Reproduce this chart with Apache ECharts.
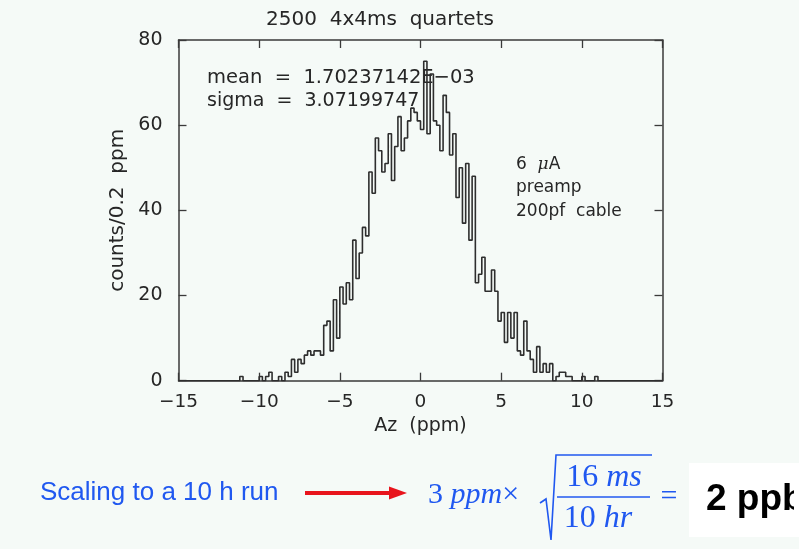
<!DOCTYPE html>
<html>
<head>
<meta charset="utf-8">
<script src="https://cdn.jsdelivr.net/npm/echarts@6/dist/echarts.min.js"></script>
<style>
  html, body { margin: 0; padding: 0; background: #f5faf7; }
  #chart { width: 799px; height: 549px; }
</style>
</head>
<body>
<div id="chart"></div>
<script>
// Histogram of Az, 150 bins of 0.2 ppm from -15 to 15
const binStart = -15;
const binWidth = 0.2;
const counts = [
  0, 0, 0, 0, 0, 0, 0, 0, 0, 0,
  0, 0, 0, 0, 0, 0, 0, 0, 0, 1,
  0, 0, 0, 0, 0, 1, 0, 1, 2, 0,
  0, 1, 0, 2, 1, 5, 2, 5, 4, 6,
  7, 6, 7, 7, 6, 13, 14, 7, 19, 10,
  22, 18, 23, 19, 33, 24, 30, 36, 34, 49,
  44, 57, 54, 49, 51, 58, 47, 55, 62, 54,
  57, 61, 64, 63, 61, 59, 75, 58, 72, 61,
  60, 54, 67, 63, 53, 58, 43, 50, 37, 51,
  33, 48, 23, 25, 29, 21, 21, 26, 21, 14,
  16, 9, 16, 10, 16, 7, 6, 14, 7, 5,
  2, 8, 2, 4, 2, 4, 0, 1, 2, 2,
  1, 1, 0, 0, 0, 1, 0, 0, 0, 1,
  0, 0, 0, 0, 0, 0, 0, 0, 0, 0,
  0, 0, 0, 0, 0, 0, 0, 0, 0, 0
];
const xRange = [-15, 15];
const xStep = 5;
const yRange = [0, 80];
const yStep = 20;

const titleText = '2500  4x4ms  quartets';
const statLines = ['mean  =  1.70237142E\u221203', 'sigma  =  3.07199747'];
const noteLines = ['preamp', '200pf  cable'];

// step outline: each bin starts at its left edge, closes at the right end
const outline = counts.map((c, i) => [+(binStart + i * binWidth).toFixed(1), c]);
outline.push([xRange[1], 0]);

const ink = '#262626';
const frame = '#3a3a3a';
const sans = 'DejaVu Sans';
const blue = '#2058f0';

const minusFmt = v => String(v).replace('-', '\u2212');

const xCommon = {
  type: 'value', min: xRange[0], max: xRange[1], interval: xStep,
  axisLine: { show: true, onZero: false, lineStyle: { color: frame, width: 1.5 } },
  axisTick: { show: true, inside: true, length: 8, lineStyle: { color: frame, width: 1.3 } },
  splitLine: { show: false }
};
const yCommon = {
  type: 'value', min: yRange[0], max: yRange[1], interval: yStep,
  axisLine: { show: true, onZero: false, lineStyle: { color: frame, width: 1.5 } },
  axisTick: { show: true, inside: true, length: 8, lineStyle: { color: frame, width: 1.3 } },
  splitLine: { show: false }
};

const chart = echarts.init(document.getElementById('chart'), null, { renderer: 'canvas' });
chart.setOption({
  backgroundColor: '#f5faf7',
  animation: false,
  grid: { left: 178.5, right: 136.5, top: 40, bottom: 168.3 },
  xAxis: [
    Object.assign({}, xCommon, {
      position: 'bottom',
      axisLabel: { formatter: minusFmt, color: ink, fontFamily: sans, fontSize: 18.5, margin: 12 },
      name: 'Az  (ppm)', nameLocation: 'middle', nameGap: 33,
      nameTextStyle: { color: ink, fontFamily: sans, fontSize: 19 }
    }),
    Object.assign({}, xCommon, { position: 'top', axisLabel: { show: false } })
  ],
  yAxis: [
    Object.assign({}, yCommon, {
      position: 'left',
      axisLabel: { color: ink, fontFamily: sans, fontSize: 19, margin: 16 },
      name: 'counts/0.2  ppm', nameLocation: 'middle', nameGap: 42, nameRotate: 90,
      nameTextStyle: { color: ink, fontFamily: sans, fontSize: 20 }
    }),
    Object.assign({}, yCommon, { position: 'right', axisLabel: { show: false } })
  ],
  series: [{
    type: 'line',
    step: 'end',
    data: outline,
    showSymbol: false,
    lineStyle: { color: '#2e2e2e', width: 1.6 },
    z: 3
  }],
  graphic: [
    { type: 'text', style: { text: titleText, x: 380, y: 20, textAlign: 'center', textVerticalAlign: 'middle', font: '20px "DejaVu Sans"', fill: ink } },
    { type: 'text', style: { text: statLines[0], x: 207, y: 78, textVerticalAlign: 'middle', font: '19.5px "DejaVu Sans"', fill: ink } },
    { type: 'text', style: { text: statLines[1], x: 207, y: 101, textVerticalAlign: 'middle', font: '19px "DejaVu Sans"', fill: ink } },
    { type: 'text', style: {
        text: '{n|6  }{m|\u03bc}{n|A}', x: 516, y: 165, textVerticalAlign: 'middle',
        rich: {
          n: { font: '17px "DejaVu Sans"', fill: ink },
          m: { font: 'italic 17px "DejaVu Serif"', fill: ink }
        }
    } },
    { type: 'text', style: { text: noteLines[0], x: 516, y: 188, textVerticalAlign: 'middle', font: '17px "DejaVu Sans"', fill: ink } },
    { type: 'text', style: { text: noteLines[1], x: 516, y: 212, textVerticalAlign: 'middle', font: '17px "DejaVu Sans"', fill: ink } },

    // scaling note below the plot
    { type: 'text', style: { text: 'Scaling to a 10 h run', x: 40, y: 493, textVerticalAlign: 'middle', font: '26px "Liberation Sans"', fill: blue } },
    { type: 'line', shape: { x1: 305, y1: 493, x2: 393, y2: 493 }, style: { stroke: '#e8141c', lineWidth: 4 } },
    { type: 'polygon', shape: { points: [[389, 486.5], [407, 493], [389, 499.5]] }, style: { fill: '#e8141c' } },
    { type: 'text', style: {
        text: '{n|3 }{i|ppm}{n|\u00d7}', x: 428, y: 495, textVerticalAlign: 'middle',
        rich: {
          n: { font: '30px "Liberation Serif"', fill: blue },
          i: { font: 'italic 30px "Liberation Serif"', fill: blue }
        }
    } },
    { type: 'polyline', shape: { points: [[540, 503], [546, 499], [551, 540], [556, 455], [652, 455]] }, style: { stroke: blue, lineWidth: 1.6, fill: null } },
    { type: 'line', shape: { x1: 557, y1: 497, x2: 650, y2: 497 }, style: { stroke: blue, lineWidth: 1.5 } },
    { type: 'text', style: {
        text: '{n|16 }{i|ms}', x: 604, y: 478, textAlign: 'center', textVerticalAlign: 'middle',
        rich: {
          n: { font: '32px "Liberation Serif"', fill: blue },
          i: { font: 'italic 32px "Liberation Serif"', fill: blue }
        }
    } },
    { type: 'text', style: {
        text: '{n|10 }{i|hr}', x: 598, y: 519, textAlign: 'center', textVerticalAlign: 'middle',
        rich: {
          n: { font: '32px "Liberation Serif"', fill: blue },
          i: { font: 'italic 32px "Liberation Serif"', fill: blue }
        }
    } },
    { type: 'text', style: { text: '=', x: 669, y: 497, textAlign: 'center', textVerticalAlign: 'middle', font: '30px "Liberation Serif"', fill: blue } },
    { type: 'rect', shape: { x: 689, y: 463, width: 110, height: 74 }, style: { fill: '#ffffff' } },
    { type: 'text', style: { text: '2 ppb', x: 706, y: 500, textVerticalAlign: 'middle', font: 'bold 37px "Liberation Sans"', fill: '#000' } },
    // the result box is cut at the right margin
    { type: 'rect', z: 200, shape: { x: 794, y: 470, width: 6, height: 60 }, style: { fill: '#ffffff' } }
  ]
});
</script>
</body>
</html>
